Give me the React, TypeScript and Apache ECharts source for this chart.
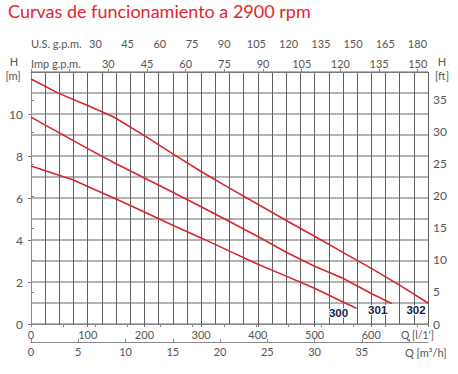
import React, { useEffect, useRef } from "react";
import * as echarts from "echarts";

// Pump curves: flow Q [l/min] vs head H [m]
const q300 = [0, 75, 100, 150, 200, 250, 300, 350, 400, 450, 500, 550, 574];
const h300 = [7.52, 6.86, 6.55, 5.95, 5.33, 4.7, 4.1, 3.47, 2.85, 2.28, 1.7, 1.05, 0.75];
const q301 = [0, 50, 100, 150, 200, 250, 300, 350, 400, 450, 500, 550, 600, 636];
const h301 = [9.85, 9.1, 8.35, 7.63, 6.95, 6.27, 5.58, 4.88, 4.17, 3.42, 2.75, 2.18, 1.45, 0.98];
const q302 = [0, 50, 100, 145, 200, 250, 300, 350, 400, 450, 500, 550, 600, 650, 700];
const h302 = [11.67, 10.97, 10.4, 9.87, 8.97, 8.1, 7.26, 6.47, 5.7, 4.93, 4.18, 3.41, 2.65, 1.85, 1.0];
const seriesNames = ["300", "301", "302"];

const title = "Curvas de funcionamiento a 2900 rpm";
const Q_MAX = 700; // l/min
const H_MAX = 12; // m
const US_GPM = 3.78541;
const IMP_GPM = 4.54609;
const M_TO_FT = 3.28084;

const labelColor = "#555";
const font = "Lato, 'Open Sans', sans-serif";

export default function App() {
  const ref = useRef<HTMLDivElement>(null);
  useEffect(() => {
    if (!ref.current) return;
    const chart = echarts.init(ref.current, undefined, { renderer: "svg" });
    const pairs = (q: number[], h: number[]) => q.map((v, i) => [v, h[i]]);
    const offsets = [
      [-18, 5],
      [-14, 7],
      [-12, 7],
    ];
    const data = [pairs(q300, h300), pairs(q301, h301), pairs(q302, h302)];
    const axLabel = { color: labelColor, fontSize: 11, fontFamily: font };
    chart.setOption({
      animation: false,
      grid: { left: 31, right: 30, top: 72, bottom: 50 },
      xAxis: [
        {
          type: "value",
          position: "bottom",
          min: 0,
          max: Q_MAX,
          interval: 100,
          axisLine: { show: true, lineStyle: { color: "#666", width: 1 } },
          axisTick: { show: true, length: 3, lineStyle: { color: "#666" } },
          axisLabel: { ...axLabel, margin: 5, formatter: (v: number) => (v <= 600 ? String(v) : "") },
          splitLine: { show: true, lineStyle: { color: "#606060", width: 1 } },
          minorTick: { show: false, splitNumber: 4 },
          minorSplitLine: { show: true, lineStyle: { color: "#606060", width: 1 } },
        },
        {
          type: "value",
          position: "top",
          offset: 19,
          min: 0,
          max: Q_MAX / US_GPM,
          interval: 15,
          axisLine: { show: true, lineStyle: { color: "#888", width: 1 } },
          axisTick: { show: true, length: 3, inside: true, lineStyle: { color: "#888" } },
          axisLabel: { ...axLabel, margin: 4, showMaxLabel: false, formatter: (v: number) => (v >= 30 ? String(v) : "") },
          splitLine: { show: false },
        },
        {
          type: "value",
          position: "top",
          offset: 0,
          min: 0,
          max: Q_MAX / IMP_GPM,
          interval: 15,
          axisLine: { show: true, lineStyle: { color: "#777", width: 1 } },
          axisTick: { show: true, length: 3, lineStyle: { color: "#888" } },
          axisLabel: { ...axLabel, margin: 3, showMaxLabel: false, formatter: (v: number) => (v >= 30 ? String(v) : "") },
          splitLine: { show: false },
        },
        {
          type: "value",
          position: "bottom",
          offset: 18,
          min: 0,
          max: (Q_MAX * 60) / 1000,
          interval: 5,
          axisLine: { show: true, lineStyle: { color: "#888", width: 1 } },
          axisTick: { show: true, length: 3, inside: true, lineStyle: { color: "#888" } },
          axisLabel: { ...axLabel, margin: 4, showMaxLabel: false, formatter: (v: number) => (v <= 35 ? String(v) : "") },
          splitLine: { show: false },
        },
      ],
      yAxis: [
        {
          type: "value",
          position: "left",
          min: 0,
          max: H_MAX,
          interval: 2,
          axisLine: { show: true, lineStyle: { color: "#666", width: 1 } },
          axisTick: { show: true, length: 3, lineStyle: { color: "#777" } },
          axisLabel: { ...axLabel, fontSize: 12, margin: 8, showMaxLabel: false },
          splitLine: { show: true, lineStyle: { color: "#9a9a9a", width: 1.5 } },
          minorTick: { show: false, splitNumber: 2 },
          minorSplitLine: { show: true, lineStyle: { color: "#9a9a9a", width: 1.5 } },
        },
        {
          type: "value",
          position: "right",
          min: 0,
          max: H_MAX * M_TO_FT,
          interval: 5,
          axisLine: { show: true, lineStyle: { color: "#888", width: 1 } },
          axisTick: { show: true, length: 3, lineStyle: { color: "#888" } },
          axisLabel: { ...axLabel, fontSize: 12, margin: 5, showMaxLabel: false },
          splitLine: { show: false },
        },
      ],
      series: data.map((d, i) => ({
        type: "line",
        name: seriesNames[i],
        xAxisIndex: 0,
        yAxisIndex: 0,
        data: d,
        symbol: "none",
        lineStyle: { color: "#d9252c", width: 1.6 },
        endLabel: {
          show: true,
          formatter: seriesNames[i],
          align: "center",
          verticalAlign: "middle",
          distance: 0,
          offset: offsets[i],
          color: "#14224a",
          fontWeight: "bold",
          fontSize: 11.5,
          fontFamily: "'Liberation Sans', Arial, sans-serif",
          textBorderColor: "#fff",
          textBorderWidth: 2,
        },
      })),
      graphic: [
        {
          type: "text",
          left: 8,
          top: 2,
          style: { text: title, fill: "#e3262e", fontSize: 18, fontFamily: font },
        },
        { type: "text", x: 31, y: 43, style: { text: "U.S. g.p.m.", fill: labelColor, fontSize: 11, fontFamily: font, verticalAlign: "middle" } },
        { type: "text", x: 31, y: 63, style: { text: "Imp g.p.m.", fill: labelColor, fontSize: 11, fontFamily: font, verticalAlign: "middle" } },
        { type: "text", x: 14, y: 61, style: { text: "H", fill: labelColor, fontSize: 11, fontFamily: font, align: "center", verticalAlign: "middle" } },
        { type: "text", x: 13, y: 75, style: { text: "[m]", fill: labelColor, fontSize: 11, fontFamily: font, align: "center", verticalAlign: "middle" } },
        { type: "text", x: 442, y: 61, style: { text: "H", fill: labelColor, fontSize: 11, fontFamily: font, align: "center", verticalAlign: "middle" } },
        { type: "text", x: 442, y: 75, style: { text: "[ft]", fill: labelColor, fontSize: 11, fontFamily: font, align: "center", verticalAlign: "middle" } },
        { type: "text", x: 401, y: 335, style: { text: "Q [l/1']", fill: labelColor, fontSize: 10.5, fontFamily: font, verticalAlign: "middle" } },
        { type: "text", x: 405, y: 352, style: { text: "Q [m³/h]", fill: labelColor, fontSize: 11, fontFamily: font, verticalAlign: "middle" } },
      ],
    });
    return () => chart.dispose();
  }, []);
  return (
    <div
      ref={ref}
      style={{ position: "fixed", left: 0, top: 0, width: 458, height: 374, background: "#fff" }}
    />
  );
}
